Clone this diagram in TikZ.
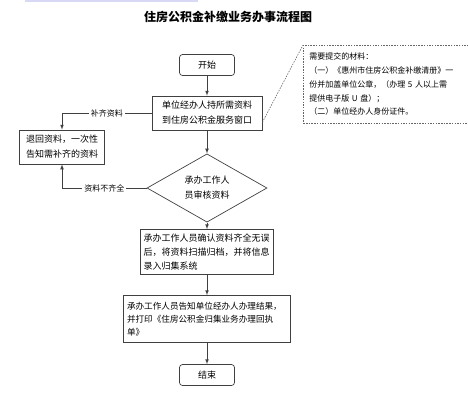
\documentclass[tikz,border=0pt]{standalone}
\usepackage{fontspec}
\newfontfamily\cjk{Noto Sans CJK SC}
\usetikzlibrary{shapes.geometric}

\tikzset{
    box/.style={draw=black!75, line width=0.7pt, font=\cjk\fontsize{9}{15}\selectfont, align=center},
    ends/.style={box, rounded corners=3pt, minimum width=55pt, minimum height=21pt},
    lbl/.style={fill=white, font=\cjk\fontsize{8}{10}\selectfont, inner sep=2pt},
    line/.style={draw=black!75, line width=0.7pt},
}

\begin{document}
\begin{tikzpicture}[x=1pt, y=-1pt, node distance=50pt, >=latex]
    \useasboundingbox (0,0) rectangle (468,400);
    \fill[fill=black!25!blue!15] (25,0) rectangle (198,1.5);

    \node[font=\cjk\bfseries\fontsize{12}{14}\selectfont] (title) at (228,17) {住房公积金补缴业务办事流程图};

    % main flow
    \node[ends] (start) at (207,65) {开始};
    \node[box, minimum width=110pt, minimum height=34pt] (apply) [below of=start, node distance=48pt] {单位经办人持所需资料\\到住房公积金服务窗口};
    \node[box, diamond, minimum width=120pt, minimum height=63pt, inner sep=0pt] (check) [below of=apply, node distance=75pt] {承办工作人\\员审核资料};
    \node[box, align=left, text width=127pt, minimum height=45pt, font=\cjk\fontsize{9}{14}\selectfont] (record) [below of=check, node distance=64pt] {承办工作人员确认资料齐全无误\\后，将资料扫描归档，并将信息\\录入归集系统};
    \node[box, align=left, text width=160pt, minimum height=47pt, font=\cjk\fontsize{8.6}{13}\selectfont] (notify) [below of=record, node distance=67pt] {承办工作人员告知单位经办人办理结果，\\并打印《住房公积金归集业务办理回执\\单》};
    \node[ends] (finish) [below of=notify, node distance=56pt] {结束};

    % return branch
    \node[box, minimum width=85pt, minimum height=34pt] (back) at (62,147) {退回资料，一次性\\告知需补齐的资料};

    % materials note
    \node[draw=black!60, dash pattern=on 1.5pt off 1.2pt, line width=0.6pt, anchor=north west, align=left,
          text width=172pt, minimum height=78pt, inner sep=6pt, font=\cjk\fontsize{8}{13.7}\selectfont] (note) at (303,45)
        {需要提交的材料：\\（一）《惠州市住房公积金补缴清册》一\\份并加盖单位公章，（办理 5 人以上需\\提供电子版 U 盘）；\\（二）单位经办人身份证件。};
    \draw[line, draw=black!60, dash pattern=on 1.5pt off 1.2pt, line width=0.6pt] ([yshift=8pt]apply.south east) -- (note.north west);

    \draw[line, ->] (start) -- (apply);
    \draw[line, ->] (apply) -- (check);
    \draw[line, ->] (check) -- (record);
    \draw[line, ->] (record) -- (notify);
    \draw[line, ->] (notify) -- (finish);
    \draw[line, ->] (apply.west) -- node[lbl] {补齐资料} (apply.west -| back.north) -- (back.north);
    \draw[line, ->] (check.west) -- node[lbl] {资料不齐全} (check.west -| back.south) -- (back.south);
\end{tikzpicture}
\end{document}
